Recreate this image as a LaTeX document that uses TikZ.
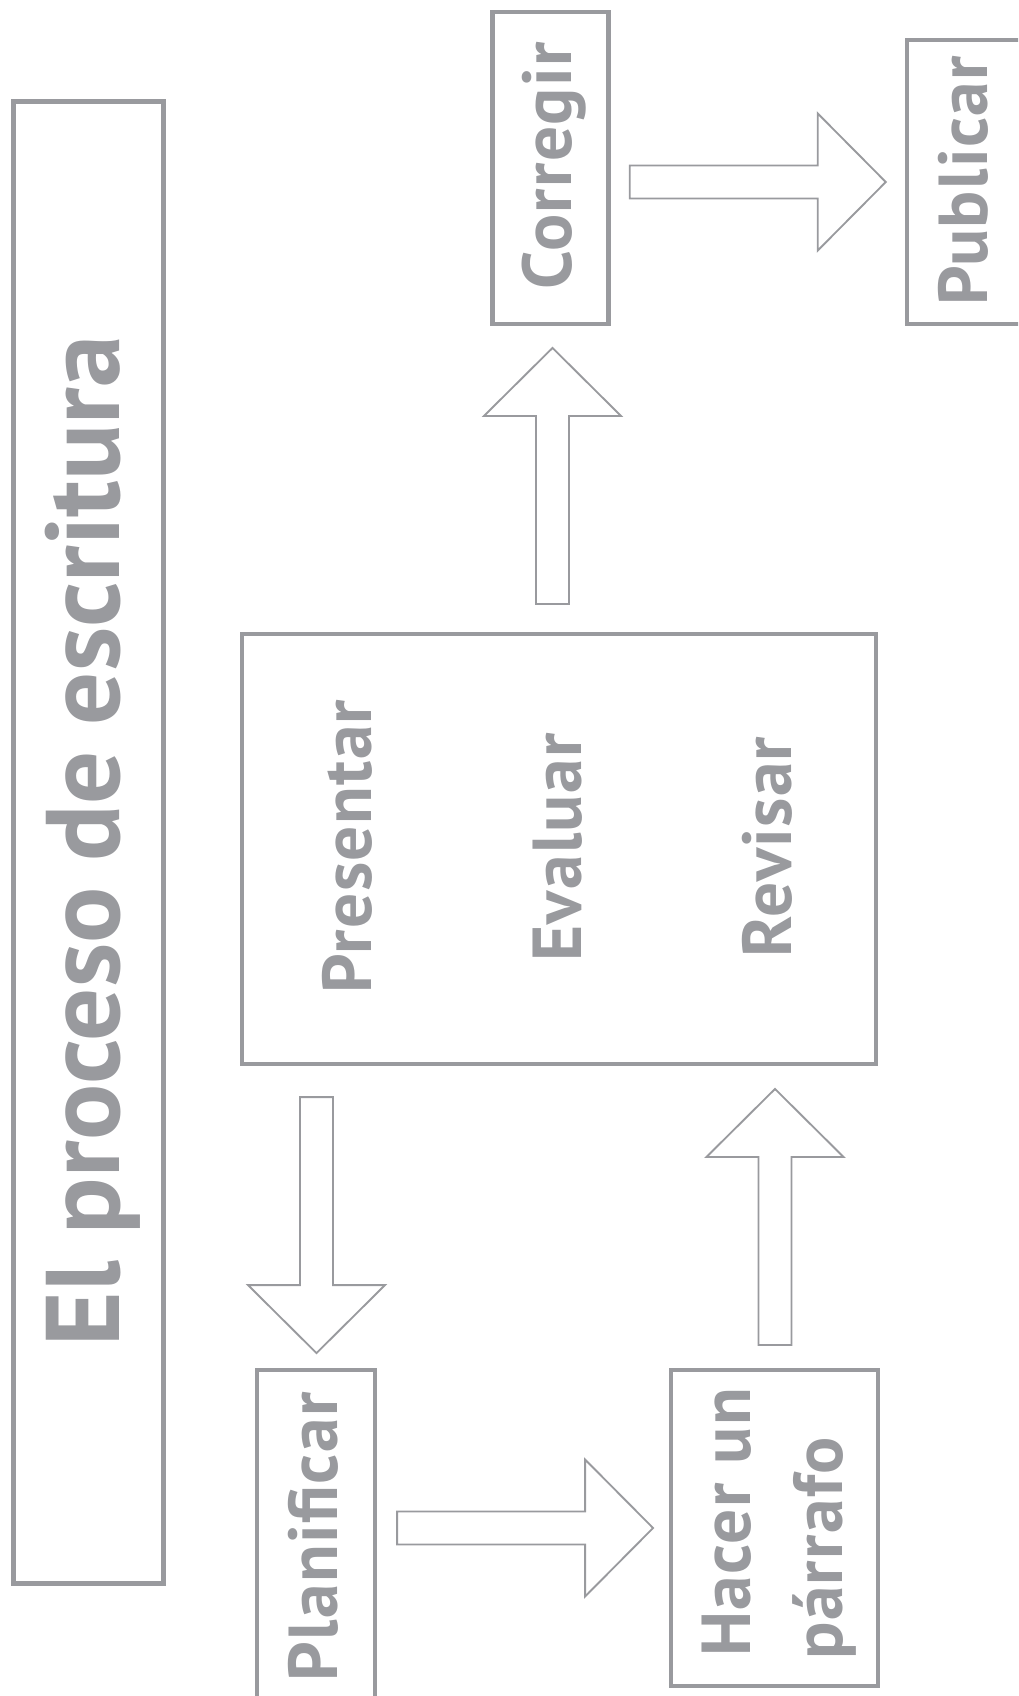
\documentclass[tikz,border=0pt]{standalone}
\usepackage{fontspec}
\setmainfont{PT Sans}
\newfontfamily\lblfont{PT Sans}[LetterSpace=2.0]
\usetikzlibrary{calc}
\definecolor{dgray}{RGB}{153,154,158}
\begin{document}
\begin{tikzpicture}[x=0.75pt,y=-0.75pt,
  boxnode/.style={draw=dgray, line width=3.4pt, rectangle, inner sep=0pt},
  lbl/.style={text=dgray, inner sep=0pt, rotate=90, font=\lblfont\fontsize{52pt}{60pt}\selectfont\bfseries},
  titlelbl/.style={text=dgray, inner sep=0pt, rotate=90, font=\fontsize{78.5pt}{90pt}\selectfont\bfseries},
  arrowline/.style={draw=dgray, line width=1.4pt, line join=miter},
  barrow/.pic={\draw[arrowline] (0,-16.5) -- (188,-16.5) -- (188,-68.5) -- (256,0) -- (188,68.5) -- (188,16.5) -- (0,16.5) -- cycle;}
]
\useasboundingbox (0,0) rectangle (1018,1696);
\clip (0,0) rectangle (1018,1696);
% boxes
\node[boxnode, minimum width=150*0.75pt, minimum height=1482*0.75pt] (title) at (88.5,842.5) {};
\node[boxnode, minimum width=116*0.75pt, minimum height=311.6*0.75pt] (corr) at (550.5,168) {};
\node[boxnode, minimum width=116.6*0.75pt, minimum height=283.6*0.75pt] (pub) at (965.5,182) {};
\node[boxnode, minimum width=633.6*0.75pt, minimum height=429.6*0.75pt] (big) at (559,849) {};
\node[boxnode, minimum width=117.6*0.75pt, minimum height=430*0.75pt] (plan) at (316,1585) {};
\node[boxnode, minimum width=206.6*0.75pt, minimum height=315.6*0.75pt] (hacer) at (774.5,1528) {};
% texts
\node[titlelbl, anchor=base] (ttitle) at (119,841) {El proceso de escritura};
\node[lbl, anchor=base] (tcorr) at (571,166) {Corregir};
\node[lbl, anchor=base] (tpub) at (987,181) {Publicar};
\node[lbl, anchor=base] (tpres) at (371,846.5) {Presentar};
\node[lbl, anchor=base] (teval) at (581,847.5) {Evaluar};
\node[lbl, anchor=base] (trev) at (791,847) {Revisar};
\node[lbl, anchor=base] (tplan) at (337,1537) {Planificar};
\node[lbl, anchor=base west] (thac1) at (750,1657) {Hacer un};
\node[lbl, anchor=base west] (thac2) at (842,1660) {párrafo};
% arrows
\pic at ($(corr.east |- pub.west)+(19,0)$) {barrow};
\pic[rotate=90] at ($(corr.south |- big.north)+(2,-28)$) {barrow};
\pic[rotate=-90] at ($(plan.north |- big.south)+(0.5,31)$) {barrow};
\pic at ($(plan.east |- hacer.west)+(20,0)$) {barrow};
\pic[rotate=90] at ($(hacer.north)+(0.5,-23)$) {barrow};
\end{tikzpicture}
\end{document}
